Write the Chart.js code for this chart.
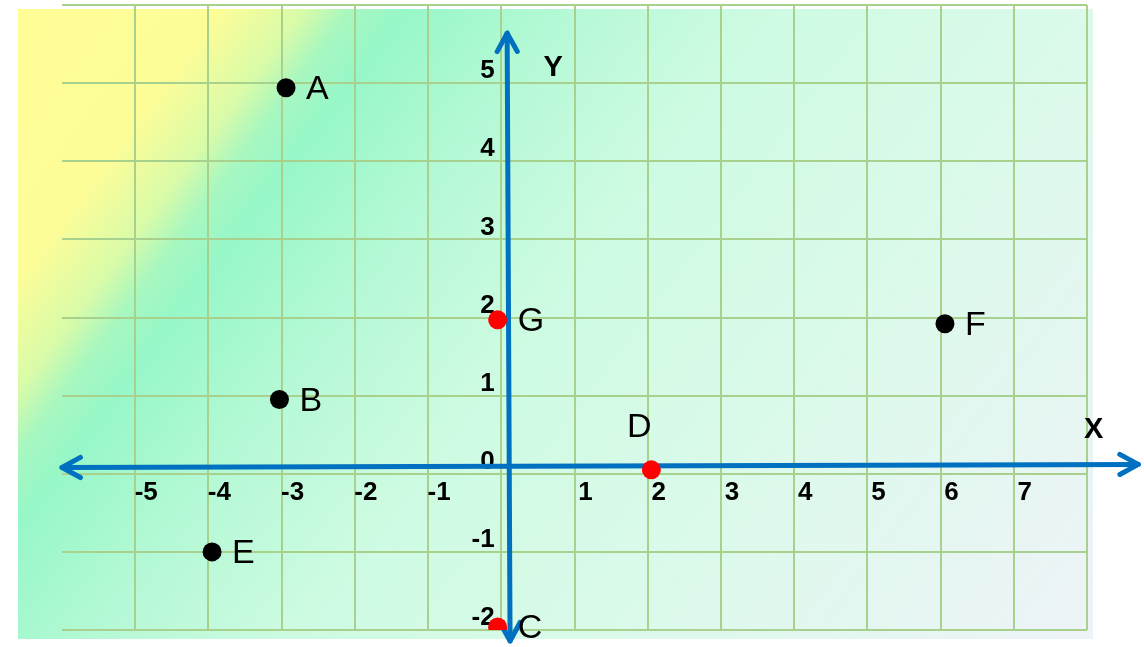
<!DOCTYPE html>
<html>
<head>
<meta charset="utf-8">
<script src="https://cdn.jsdelivr.net/npm/chart.js@4"></script>
<style>
    html, body { margin: 0; padding: 0; background: #ffffff; }
    #chart-plane { display: block; }
</style>
</head>
<body>
<canvas id="chart-plane" width="1144" height="647"></canvas>
<script>
/**
 * Coordinate plane with labelled points A..G.
 */

// Plane extent (grid units)
const X_MIN = -6;
const X_MAX = 8;
const Y_MIN = -2;
const Y_MAX = 6;

// Points
const POINT_NAMES = ['A', 'B', 'C', 'D', 'E', 'F', 'G'];
const POINT_X = [-2.94, -3.03, -0.05, 2.05, -3.95, 6.06, -0.05];
const POINT_Y = [4.94, 0.95, -1.96, 0.05, -1.0, 1.92, 1.97];

// Tick labels shown along the axes
const X_TICK_LABELS = [-5, -4, -3, -2, -1, 1, 2, 3, 4, 5, 6, 7];
const Y_TICK_LABELS = [-2, -1, 0, 1, 2, 3, 4, 5];

const AXIS_TITLES = ['X', 'Y'];

// Styles
const POINT_COLORS = ['#000000', '#000000', '#ff0000', '#ff0000', '#000000', '#000000', '#ff0000'];
const LABEL_SIDE = ['right', 'right', 'right', 'above', 'right', 'right', 'right'];
const AXIS_BLUE = '#0070c0';
const GRID_GREEN = '#a9d18e';
const FONT = '"Liberation Sans", Arial, sans-serif';

const planeBackground = {
    id: 'planeBackground',
    beforeDraw(chart) {
        const { ctx, chartArea: a } = chart;
        const left = a.left - 44, top = a.top + 4;
        const right = a.right + 6, bottom = a.bottom + 9;
        // diagonal sweep: yellow corner, mint band, pale towards bottom right
        const len = (right - left) * 0.8 + (bottom - top) * 0.6;
        const g = ctx.createLinearGradient(left, top, left + len * 0.8, top + len * 0.6);
        g.addColorStop(0, '#fffd96');
        g.addColorStop(0.13, '#fdfd98');
        g.addColorStop(0.185, '#d9fba8');
        g.addColorStop(0.215, '#a8f7c0');
        g.addColorStop(0.25, '#97f7c8');
        g.addColorStop(0.36, '#b6f9d6');
        g.addColorStop(0.48, '#cdfbe2');
        g.addColorStop(0.69, '#dbfaea');
        g.addColorStop(1, '#eef3f8');
        ctx.save();
        ctx.fillStyle = g;
        ctx.fillRect(left, top, right - left, bottom - top);
        ctx.restore();
    },
};

function arrowHead(ctx, tipX, tipY, fromX, fromY) {
    const ang = Math.atan2(tipY - fromY, tipX - fromX);
    const len = 21, spread = 0.5;
    ctx.beginPath();
    ctx.moveTo(tipX - len * Math.cos(ang - spread), tipY - len * Math.sin(ang - spread));
    ctx.lineTo(tipX, tipY);
    ctx.lineTo(tipX - len * Math.cos(ang + spread), tipY - len * Math.sin(ang + spread));
    ctx.stroke();
}

// Blue axes with arrows, slightly off the zero grid lines like the original
const blueAxes = {
    id: 'blueAxes',
    beforeDatasetsDraw(chart) {
        const { ctx, scales: { x, y } } = chart;
        ctx.save();
        ctx.strokeStyle = AXIS_BLUE;
        ctx.lineWidth = 5;
        ctx.lineCap = 'round';
        ctx.lineJoin = 'round';

        const xl = x.getPixelForValue(X_MIN), xr = x.getPixelForValue(X_MAX + 0.7);
        const yl = y.getPixelForValue(0.08), yr = y.getPixelForValue(0.12);
        ctx.beginPath();
        ctx.moveTo(xl, yl);
        ctx.lineTo(xr, yr);
        ctx.stroke();
        arrowHead(ctx, xl, yl, xr, yr);
        arrowHead(ctx, xr, yr, xl, yl);

        const xt = x.getPixelForValue(0.08), xb = x.getPixelForValue(0.12);
        const yt = y.getPixelForValue(Y_MAX - 0.36), yb = y.getPixelForValue(Y_MIN - 0.14);
        ctx.beginPath();
        ctx.moveTo(xt, yt);
        ctx.lineTo(xb, yb);
        ctx.stroke();
        arrowHead(ctx, xt, yt, xb, yb);
        arrowHead(ctx, xb, yb, xt, yt);
        ctx.restore();
    },
};

const pointLabels = {
    id: 'pointLabels',
    afterDatasetsDraw(chart) {
        const { ctx, scales: { x, y } } = chart;
        const meta = chart.getDatasetMeta(0);
        ctx.save();
        ctx.fillStyle = '#000000';
        ctx.font = `34px ${FONT}`;
        ctx.textBaseline = 'middle';
        meta.data.forEach((pt, i) => {
            if (LABEL_SIDE[i] === 'above') {
                ctx.textAlign = 'center';
                ctx.fillText(POINT_NAMES[i], pt.x - 12, pt.y - 42);
            } else {
                ctx.textAlign = 'left';
                ctx.fillText(POINT_NAMES[i], pt.x + 20, pt.y + 2);
            }
        });

        // axis names
        ctx.font = `bold 29px ${FONT}`;
        ctx.textAlign = 'center';
        ctx.fillText(AXIS_TITLES[0], x.getPixelForValue(X_MAX + 0.09), y.getPixelForValue(0.56));
        ctx.fillText(AXIS_TITLES[1], x.getPixelForValue(0.71), y.getPixelForValue(Y_MAX - 0.81));
        ctx.restore();
    },
};

// axes sit inside the plane, so they should not push the plane edges inwards
function noScalePadding(scale) {
    scale.paddingTop = 0;
    scale.paddingBottom = 0;
    scale.paddingLeft = 0;
    scale.paddingRight = 0;
}

const canvas = document.getElementById('chart-plane');

new Chart(canvas, {
    type: 'scatter',
    data: {
        datasets: [{
            label: 'points',
            data: POINT_X.map((v, i) => ({ x: v, y: POINT_Y[i] })),
            pointBackgroundColor: POINT_COLORS,
            pointBorderWidth: 0,
            pointRadius: 9.5,
            pointHoverRadius: 9.5,
        }],
    },
    options: {
        responsive: false,
        animation: false,
        devicePixelRatio: 1,
        layout: {
            autoPadding: false,
            padding: { left: 62, right: 57, top: 5, bottom: 17 },
        },
        plugins: {
            legend: { display: false },
            tooltip: { enabled: false },
        },
        scales: {
            x: {
                type: 'linear',
                position: { y: 0 },
                min: X_MIN,
                max: X_MAX,
                afterFit: noScalePadding,
                border: { display: false },
                grid: {
                    drawTicks: false,
                    lineWidth: 2,
                    color: ctx => (ctx.tick && ctx.tick.value === X_MIN ? 'rgba(0,0,0,0)' : GRID_GREEN),
                },
                ticks: {
                    stepSize: 1,
                    padding: 3,
                    labelOffset: 11,
                    color: '#000000',
                    font: { family: FONT, size: 26, weight: 'bold' },
                    callback: val => (X_TICK_LABELS.includes(val) ? String(val) : ''),
                },
            },
            y: {
                type: 'linear',
                position: { x: -0.09 },
                min: Y_MIN,
                max: Y_MAX,
                afterFit: noScalePadding,
                border: { display: false },
                grid: {
                    drawTicks: false,
                    lineWidth: 2,
                    color: GRID_GREEN,
                },
                ticks: {
                    stepSize: 1,
                    padding: 6,
                    labelOffset: -12,
                    color: '#000000',
                    font: { family: FONT, size: 26, weight: 'bold' },
                    callback: val => (Y_TICK_LABELS.includes(val) ? String(val) : ''),
                },
            },
        },
    },
    plugins: [planeBackground, blueAxes, pointLabels],
});
</script>
</body>
</html>
